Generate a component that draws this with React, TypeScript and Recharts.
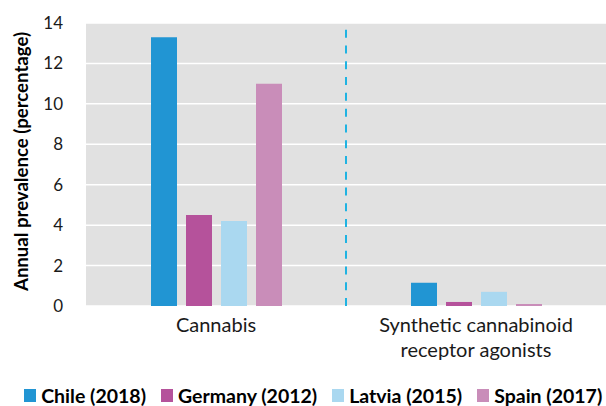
import React from "react";
import {
  BarChart,
  Bar,
  XAxis,
  YAxis,
  CartesianGrid,
  ReferenceLine,
  Legend,
  Label,
} from "recharts";

const categories = ["Cannabis", "Synthetic cannabinoid receptor agonists"];
const categoryLines = [["Cannabis"], ["Synthetic cannabinoid", "receptor agonists"]];
const chile = [13.3, 1.15];
const germany = [4.5, 0.2];
const latvia = [4.2, 0.7];
const spain = [11.0, 0.1];
const seriesNames = ["Chile (2018)", "Germany (2012)", "Latvia (2015)", "Spain (2017)"];
const seriesColors = ["#2195d3", "#b5529b", "#aad8f0", "#c98db9"];
const yTicks = [0, 2, 4, 6, 8, 10, 12, 14];
const yLabel = "Annual prevalence (percentage)";

const seriesValues = [chile, germany, latvia, spain];
const keys = ["chile", "germany", "latvia", "spain"];

const data = categories.map((c, i) => {
  const row: any = { category: c, idx: i };
  keys.forEach((k, s) => (row[k] = seriesValues[s][i]));
  return row;
});

const FONT = "Lato, 'Open Sans', sans-serif";

const XTick = (props: any) => {
  const { x, y, payload } = props;
  const idx = categories.indexOf(payload.value);
  const lines = categoryLines[idx] || [payload.value];
  return (
    <text x={x} y={y} textAnchor="middle" fontFamily={FONT} fontSize={20} fill="#1a1a1a">
      {lines.map((l, i) => (
        <tspan key={i} x={x} dy={i === 0 ? 24 : 25}>
          {l}
        </tspan>
      ))}
    </text>
  );
};

const YLabelContent = (props: any) => {
  const vb = props.viewBox || { x: 0, y: 0, width: 86, height: 284 };
  const cx = 21;
  const cy = vb.y + vb.height / 2 - 3;
  return (
    <text
      x={cx}
      y={cy}
      transform={`rotate(-90, ${cx}, ${cy})`}
      textAnchor="middle"
      dominantBaseline="central"
      fontFamily={FONT}
      fontWeight="bold"
      fontSize={18.6}
      fill="#000"
    >
      {yLabel}
    </text>
  );
};

const LegendContent = () => (
  <div
    style={{
      display: "flex",
      justifyContent: "center",
      alignItems: "center",
      paddingTop: 18,
      paddingLeft: 20,
      fontFamily: FONT,
      fontWeight: "bold",
      fontSize: 19.5,
      lineHeight: "23px",
      color: "#000",
    }}
  >
    {seriesNames.map((n, i) => (
      <div key={n} style={{ display: "flex", alignItems: "center", marginRight: i < 3 ? 14.5 : 0 }}>
        <span
          style={{
            display: "inline-block",
            width: 12,
            height: 12.5,
            background: seriesColors[i],
            marginRight: 5.5,
          }}
        />
        <span>{n}</span>
      </div>
    ))}
  </div>
);

export default function App() {
  return (
    <div style={{ position: "absolute", left: 0, top: 0, width: 606, height: 406, background: "#fff" }}>
      <BarChart
        width={606}
        height={406}
        data={data}
        margin={{ top: 23, right: 0, bottom: 0, left: 0 }}
        barSize={26}
        barGap={9}
      >
        <CartesianGrid
          vertical={false}
          stroke="#ffffff"
          strokeWidth={1.5}
          fill="#e1e1e1"
          fillOpacity={1}
        />
        <XAxis
          dataKey="category"
          axisLine={false}
          tickLine={false}
          tickSize={0}
          interval={0}
          height={60}
          tick={<XTick />}
        />
        <YAxis
          domain={[0, 14]}
          ticks={yTicks}
          width={86}
          axisLine={false}
          tickLine={false}
          tickSize={0}
          tickMargin={23}
          tick={{ fontFamily: FONT, fontSize: 17, fill: "#1a1a1a" }}
        >
          <Label content={<YLabelContent />} />
        </YAxis>
        <ReferenceLine
          x={categories[0]}
          position="end"
          stroke="#1fb3e2"
          strokeWidth={2}
          strokeDasharray="8 7.78"
        />
        {keys.map((k, i) => (
          <Bar key={k} dataKey={k} name={seriesNames[i]} fill={seriesColors[i]} isAnimationActive={false} />
        ))}
        <Legend verticalAlign="bottom" height={40} content={<LegendContent />} />
      </BarChart>
    </div>
  );
}
